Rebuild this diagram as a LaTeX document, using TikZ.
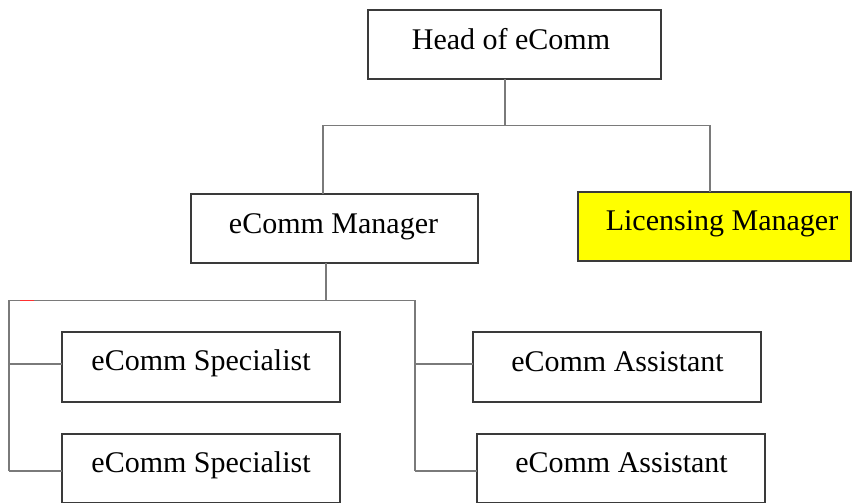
\documentclass[tikz,border=0pt]{standalone}
\usepackage{fontspec}
\setmainfont{Liberation Serif}
\definecolor{boxc}{HTML}{3A3A3A}
\definecolor{connc}{HTML}{7A7A7A}
\definecolor{licfill}{HTML}{FFFF00}
\definecolor{markred}{HTML}{FF3030}
\begin{document}
\begin{tikzpicture}[x=1pt,y=-1pt,
  box/.style={draw=boxc, line width=1.3pt, inner sep=0pt, outer sep=0pt, fill=white},
  lbl/.style={anchor=base, inner sep=0pt, font=\fontsize{30}{36}\selectfont},
  conn/.style={draw=connc, line width=1.3pt}]
\useasboundingbox (0,0) rectangle (854,503);
\clip (0,0) rectangle (854,503);
% boxes
\node[box, minimum width=293pt, minimum height=69pt] (head) at (514.5,44.5) {};
\node[box, fill=licfill, minimum width=273pt, minimum height=69pt] (lic) at (714.5,226.5) {};
\node[box, minimum width=287pt, minimum height=69pt] (mgr) at (334.5,228.5) {};
\node[box, minimum width=278pt, minimum height=70pt] (spec1) at (201,367) {};
\node[box, minimum width=278pt, minimum height=69pt] (spec2) at (201,468.5) {};
\node[box, minimum width=288pt, minimum height=70pt] (ass1) at (617,367) {};
\node[box, minimum width=288pt, minimum height=69pt] (ass2) at (621,468.5) {};
% labels
\node[lbl] (thead) at (511,50) {Head of eComm};
\node[lbl] (tlic) at (722,230) {Licensing Manager};
\node[lbl] (tmgr) at (333.5,233) {eComm Manager};
\node[lbl] (tspec1) at (201,370) {eComm Specialist};
\node[lbl] (tspec2) at (201,472) {eComm Specialist};
\node[lbl] (tass1) at (617.5,371) {eComm Assistant};
\node[lbl] (tass2) at (621.5,472) {eComm Assistant};
% junction coordinates
\coordinate (hb) at (505,125.5);
\coordinate (ml) at (323,125.5);
\coordinate (lr) at (710,125.5);
\coordinate (mb) at (326,300.5);
\coordinate (bl) at (9,300.5);
\coordinate (br) at (415,300.5);
\coordinate (s1) at (9,364);
\coordinate (s2) at (9,471);
\coordinate (a1) at (415,364);
\coordinate (a2) at (415,471);
% connectors
\draw[conn] (head.south -| hb) -- (hb);
\draw[conn] (mgr.north -| ml) -- (ml) -- (lr) -- (lic.north -| lr);
\draw[conn] (mgr.south -| mb) -- (mb);
\draw[conn] (s2) -- (bl) -- (br) -- (a2);
\draw[conn] (s1) -- (s1 -| spec1.west);
\draw[conn] (s2) -- (s2 -| spec2.west);
\draw[conn] (a1) -- (a1 -| ass1.west);
\draw[conn] (a2) -- (a2 -| ass2.west);
% small red mark
\draw[draw=markred, line width=1.3pt] (20,300.5) -- (34,300.5);
\end{tikzpicture}
\end{document}
